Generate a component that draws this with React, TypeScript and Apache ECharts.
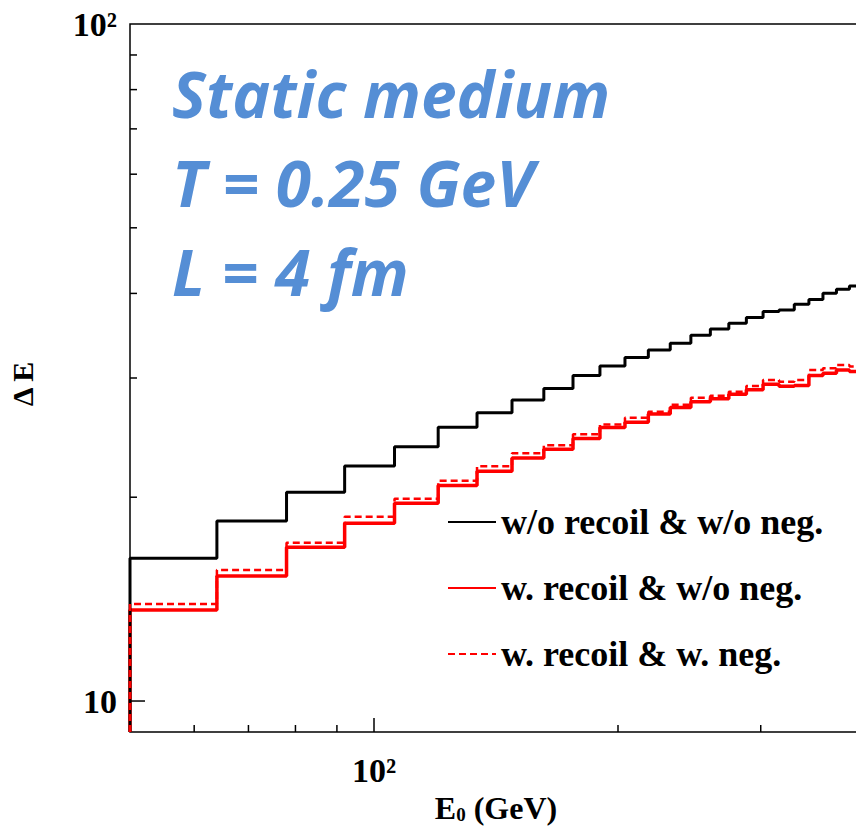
import React, { useEffect, useRef } from "react";
import * as echarts from "echarts";

// Histogram bin edges in E0 (GeV): 25 bins of 14 GeV from 50 to 400
const binEdges = [
  50, 64, 78, 92, 106, 120, 134, 148, 162, 176, 190, 204, 218, 232, 246, 260,
  274, 288, 302, 316, 330, 344, 358, 372, 386, 400,
];

// Energy loss per bin for each configuration
const noRecoilNoNeg = [
  16.25, 18.45, 20.34, 22.24, 23.75, 25.37, 26.66, 27.84, 28.95, 30.26, 31.25,
  32.17, 33.0, 33.77, 34.7, 35.45, 36.14, 36.86, 37.62, 37.81, 38.55, 39.19,
  40.02, 40.57, 41.02,
];
const recoilNoNeg = [
  13.63, 15.3, 16.87, 18.3, 19.59, 20.81, 21.85, 22.85, 23.54, 24.43, 25.35,
  25.81, 26.54, 27.13, 27.68, 27.95, 28.39, 28.83, 29.37, 29.16, 29.24, 30.26,
  30.48, 30.83, 30.67,
];
const recoilNeg = [
  13.91, 15.61, 17.13, 18.72, 19.9, 21.16, 22.22, 23.22, 23.87, 24.78, 25.62,
  26.21, 26.75, 27.4, 28.05, 28.25, 28.64, 29.2, 29.8, 29.61, 29.8, 30.83, 31.0,
  31.36, 31.2,
];

const seriesNames = [
  "w/o recoil & w/o neg.",
  "w. recoil & w/o neg.",
  "w. recoil & w. neg.",
];

// Axis ranges and tick positions
const X_MIN = 50;
const X_MAX = 400;
const Y_MIN = 9;
const Y_MAX = 100;
const xTicks = [60, 70, 80, 90, 100, 200, 300];
const xMajorTicks = [100];
const yTicks = [10, 20, 30, 40, 50, 60, 70, 80, 90];
const yMajorTicks = [10];

const infoLines = ["Static medium", "T = 0.25 GeV", "L = 4 fm"];

const serif = "'Liberation Serif', 'Times New Roman', serif";

// Turn bin contents into a step outline that rises from the bottom of the frame
function histOutline(values: number[]) {
  const pts: number[][] = [[binEdges[0], Y_MIN]];
  values.forEach((v, i) => {
    pts.push([binEdges[i], v], [binEdges[i + 1], v]);
  });
  pts.push([binEdges[binEdges.length - 1], Y_MIN]);
  return pts;
}

const near = (a: number, b: number) => Math.abs(a - b) < 1e-6 * b;

export default function App() {
  const ref = useRef<HTMLDivElement>(null);

  useEffect(() => {
    if (!ref.current) return;
    const chart = echarts.init(ref.current, null, { renderer: "svg" });

    const option: any = {
      animation: false,
      backgroundColor: "#fff",
      grid: {
        left: 130,
        top: 24,
        width: 732,
        height: 708,
        outerBoundsMode: "none",
        containLabel: false,
        show: true,
        borderColor: "#000",
        borderWidth: 1.5,
        backgroundColor: "transparent",
      },
      xAxis: {
        type: "log",
        logBase: 10,
        min: X_MIN,
        max: X_MAX,
        axisLine: { show: false },
        axisTick: { show: false },
        splitLine: { show: false },
        axisLabel: {
          margin: 21,
          fontFamily: serif,
          fontWeight: "bold",
          fontSize: 34,
          color: "#000",
          formatter: (v: number) => (near(v, 100) ? "10²" : ""),
        },
        name: "{e|E}{s|0}{e| (GeV)}",
        nameLocation: "middle",
        nameGap: 57,
        nameTextStyle: {
          rich: {
            e: {
              fontFamily: serif,
              fontWeight: "bold",
              fontSize: 32,
              color: "#000",
            },
            s: {
              fontFamily: serif,
              fontWeight: "bold",
              fontSize: 19,
              color: "#000",
              verticalAlign: "bottom",
              padding: [12, 0, 0, 0],
            },
          },
        },
      },
      yAxis: {
        type: "log",
        logBase: 10,
        min: Y_MIN,
        max: Y_MAX,
        axisLine: { show: false },
        axisTick: { show: false },
        splitLine: { show: false },
        axisLabel: {
          margin: 13,
          fontFamily: serif,
          fontWeight: "bold",
          fontSize: 34,
          color: "#000",
          formatter: (v: number) =>
            near(v, 10) ? "10" : near(v, 100) ? "10²" : "",
        },
        name: "Δ E",
        nameLocation: "middle",
        nameRotate: 90,
        nameGap: 93,
        nameTextStyle: {
          fontFamily: serif,
          fontWeight: "bold",
          fontSize: 30,
          color: "#000",
          padding: [0, 12, 0, 0],
        },
      },
      legend: {
        orient: "vertical",
        left: 442,
        top: 497,
        itemWidth: 48,
        itemHeight: 14,
        itemGap: 26,
        itemTextGap: 10,
        data: seriesNames,
        itemStyle: {
          color: "transparent",
          borderColor: "transparent",
          borderWidth: 0,
          opacity: 0,
        },
        textStyle: {
          fontFamily: serif,
          fontWeight: "bold",
          fontSize: 36,
          lineHeight: 40,
          color: "#000",
        },
      },
      graphic: infoLines.map((t, i) => ({
        type: "text",
        left: 172,
        top: 61 + i * 89,
        style: {
          text: t,
          fill: "#558ed5",
          fontFamily: "'Open Sans', Lato, sans-serif",
          fontStyle: "italic",
          fontWeight: "bold",
          fontSize: 64,
        },
      })),
      series: [
        {
          name: seriesNames[1],
          type: "line",
          data: histOutline(recoilNoNeg),
          symbol: "none",
          clip: false,
          z: 2,
          lineStyle: { color: "#ff0000", width: 3.5, type: "solid" },
          itemStyle: { color: "#ff0000" },
        },
        {
          name: seriesNames[0],
          type: "line",
          data: histOutline(noRecoilNoNeg),
          symbol: "none",
          clip: false,
          z: 3,
          lineStyle: { color: "#000", width: 3, type: "solid" },
          itemStyle: { color: "#000" },
        },
        {
          name: seriesNames[2],
          type: "line",
          data: histOutline(recoilNeg),
          symbol: "none",
          clip: false,
          z: 4,
          lineStyle: { color: "#ff0000", width: 2.5, type: [7, 4] },
          itemStyle: { color: "#ff0000" },
        },
        {
          // x-axis tick marks
          type: "custom",
          data: xTicks.map((v) => [v, Y_MIN, xMajorTicks.includes(v) ? 1 : 0]),
          encode: { x: 0, y: 1 },
          silent: true,
          z: 5,
          renderItem: (_p: any, api: any) => {
            const p = api.coord([api.value(0), api.value(1)]);
            const len = api.value(2) ? 14 : 7;
            return {
              type: "line",
              shape: { x1: p[0], y1: p[1], x2: p[0], y2: p[1] - len },
              style: { stroke: "#000", lineWidth: 1.5 },
            };
          },
        },
        {
          // y-axis tick marks
          type: "custom",
          data: yTicks.map((v) => [X_MIN, v, yMajorTicks.includes(v) ? 1 : 0]),
          encode: { x: 0, y: 1 },
          silent: true,
          z: 5,
          renderItem: (_p: any, api: any) => {
            const p = api.coord([api.value(0), api.value(1)]);
            const len = api.value(2) ? 15 : 7;
            return {
              type: "line",
              shape: { x1: p[0], y1: p[1], x2: p[0] + len, y2: p[1] },
              style: { stroke: "#000", lineWidth: 1.5 },
            };
          },
        },
      ],
    };

    chart.setOption(option);
    return () => chart.dispose();
  }, []);

  return (
    <div
      ref={ref}
      style={{
        position: "absolute",
        left: 0,
        top: 0,
        width: 856,
        height: 828,
        background: "#fff",
      }}
    />
  );
}
